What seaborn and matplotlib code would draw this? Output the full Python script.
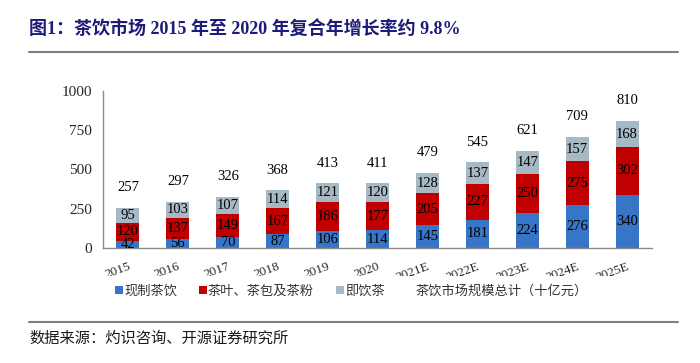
import numpy as np
import pandas as pd
import matplotlib
matplotlib.use("Agg")
import matplotlib.pyplot as plt
import seaborn as sns
from matplotlib.lines import Line2D
from matplotlib.patches import Patch
from matplotlib.transforms import Bbox, TransformedBbox

# -----------------------------
# DATA
# -----------------------------

years = ["2015", "2016", "2017", "2018", "2019", "2020",
         "2021E", "2022E", "2023E", "2024E", "2025E"]
fresh_tea = [42, 56, 70, 87, 106, 114, 145, 181, 224, 276, 340]
leaf_tea = [120, 137, 149, 167, 186, 177, 205, 227, 250, 275, 302]
rtd_tea = [95, 103, 107, 114, 121, 120, 128, 137, 147, 157, 168]
totals = [257, 297, 326, 368, 413, 411, 479, 545, 621, 709, 810]

series_names = ["现制茶饮", "茶叶、茶包及茶粉", "即饮茶"]
total_name = "茶饮市场规模总计（十亿元）"
yticks = [0, 250, 500, 750, 1000]

title_text = "图1：茶饮市场 2015 年至 2020 年复合年增长率约 9.8%"
source_text = "数据来源：灼识咨询、开源证券研究所"

# -----------------------------
# STYLE
# -----------------------------

sns.set_style("white")
plt.rcParams['font.family'] = ['Liberation Serif', 'Noto Sans CJK SC', 'DejaVu Sans']

c_blue = "#3775c7"
c_red = "#c00000"
c_grey = "#a7b9c5"
navy = "#1c1c7a"
serif = ['Liberation Serif', 'Noto Sans CJK SC']
cjk = ['Noto Sans CJK SC', 'DejaVu Sans']

df = pd.DataFrame({
    "year": years,
    "fresh": fresh_tea,
    "leaf": leaf_tea,
    "rtd": rtd_tea,
})
df["lvl1"] = df["fresh"]
df["lvl2"] = df["fresh"] + df["leaf"]
df["lvl3"] = df["lvl2"] + df["rtd"]

fig = plt.figure(figsize=(7, 3.63), dpi=100)
ax = fig.add_axes([103 / 700, 1 - 248 / 363, 549 / 700, 157 / 363])

# stacked bars drawn as overlapping cumulative bars
for col, color in [("lvl3", c_grey), ("lvl2", c_red), ("lvl1", c_blue)]:
    sns.barplot(
        data=df, x="year", y=col, color=color,
        width=0.46, saturation=1, linewidth=0,
        errorbar=None, ax=ax
    )

# segment labels
for i in range(len(years)):
    bottoms = [0, fresh_tea[i], fresh_tea[i] + leaf_tea[i]]
    vals = [fresh_tea[i], leaf_tea[i], rtd_tea[i]]
    for b, v in zip(bottoms, vals):
        ax.text(i, b + v / 2, str(v), ha='center', va='center',
                fontsize=10.5, family=serif, color='black')
    top = df["lvl3"][i]
    ax.annotate(str(totals[i]), (i, top), xytext=(0, 14.5),
                textcoords='offset points', ha='center', va='center',
                fontsize=10.5, family=serif, color='black')

ax.set_xlim(-0.5, len(years) - 0.5)
ax.set_ylim(0, 1000)
ax.set_yticks(yticks)
ax.set_xlabel("")
ax.set_ylabel("")

for side in ["top", "right"]:
    ax.spines[side].set_visible(False)
for side in ["left", "bottom"]:
    ax.spines[side].set_color("#8c8c8c")
    ax.spines[side].set_linewidth(1.0)

ax.tick_params(axis='y', direction='in', length=4, width=0.8,
               color='#8c8c8c', pad=8, labelsize=11)
ax.set_xticks(np.arange(-0.5, len(years)), minor=True)
ax.tick_params(axis='x', which='minor', direction='in', length=4,
               width=0.8, color='#8c8c8c')
ax.tick_params(axis='x', which='major', length=0, pad=9)
ax.set_xticks(range(len(years)))
ax.set_xticklabels(years, rotation=20, ha='right', va='top',
                   rotation_mode='anchor', fontsize=9.5, family=serif)

# tick labels are cut off at the bottom in the original
clip = TransformedBbox(Bbox([[0, 1 - 276 / 363], [1, 1]]), fig.transFigure)
for lbl in ax.get_xticklabels():
    lbl.set_clip_box(clip)
    lbl.set_clip_on(True)

# legend
handles = [
    Patch(facecolor=c_blue, edgecolor='none'),
    Patch(facecolor=c_red, edgecolor='none'),
    Patch(facecolor=c_grey, edgecolor='none'),
    Patch(facecolor='none', edgecolor='none'),
]
fig.legend(handles, series_names + [total_name], ncol=4,
           loc='center', bbox_to_anchor=(0.502, 1 - 291 / 363),
           frameon=False, handlelength=0.6, handleheight=0.6,
           handletextpad=0.1, columnspacing=1.65,
           prop={'family': cjk, 'size': 9.5}, labelcolor='#333333')

# title, rules and source
fig.text(29 / 700, 1 - 30 / 363, title_text, ha='left', va='center',
         fontsize=13, fontweight='bold', color=navy, family=serif)
for ypx in [52, 322]:
    fig.add_artist(Line2D([29 / 700, 678 / 700], [1 - ypx / 363] * 2,
                          transform=fig.transFigure, color='#808080', lw=1.5))
fig.text(29 / 700, 1 - 338 / 363, source_text, ha='left', va='center',
         fontsize=11, color='#1a1a1a', family=cjk)

fig.savefig("out.png", dpi=100)
